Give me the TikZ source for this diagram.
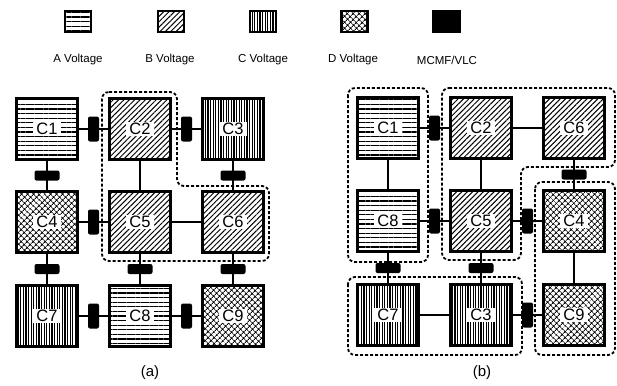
\documentclass[tikz,border=0pt]{standalone}
\usepackage{fontspec}
\setmainfont{Liberation Sans}
\usetikzlibrary{patterns.meta, positioning}

\tikzset{
  cell/.style={draw, line width=2.8pt, minimum size=60.5pt, inner sep=0pt},
  tag/.style={fill=white, inner xsep=3pt, inner ysep=1.5pt, font=\fontsize{16.5}{16.5}\selectfont},
  volA/.style={pattern={Lines[angle=0, distance=4.6pt, line width=1.1pt]}},
  volB/.style={pattern={Lines[angle=45, distance=3.8pt, line width=1pt]}},
  volC/.style={pattern={Lines[angle=90, distance=2.6pt, line width=1.2pt]}},
  volD/.style={pattern={Hatch[angle=45, distance=4pt, line width=1pt]}},
  link/.style={line width=2pt},
  mcmfv/.style={fill=black, rounded corners=2pt, minimum width=11pt, minimum height=25pt, inner sep=0pt},
  mcmfh/.style={fill=black, rounded corners=2pt, minimum width=25pt, minimum height=10pt, inner sep=0pt},
  region/.style={line width=1.8pt, dash pattern=on 3pt off 2pt, rounded corners=7pt},
  legbox/.style={draw, line width=2.4pt, minimum width=26pt, minimum height=21pt, inner sep=0pt},
  legtext/.style={font=\fontsize{11.5}{11.5}\selectfont},
  caption/.style={font=\fontsize{15}{15}\selectfont},
}

\begin{document}
\begin{tikzpicture}[x=1pt, y=-1pt]
  \useasboundingbox (0,0) rectangle (617,385);

  % Legend
  \node[legbox, volA] (legA) at (78,21.5) {};
  \node[legbox, volB] (legB) at (171,21.5) {};
  \node[legbox, volC] (legC) at (263,21.5) {};
  \node[legbox, volD] (legD) at (354.5,21.5) {};
  \node[legbox, fill=black] (legM) at (446.5,21.5) {};
  \node[legtext] (legAt) at (78,60) {A Voltage};
  \node[legtext] (legBt) at (170,60) {B Voltage};
  \node[legtext] (legCt) at (263,60) {C Voltage};
  \node[legtext] (legDt) at (353,60) {D Voltage};
  \node[legtext] (legMt) at (447,60) {MCMF/VLC};

  % (a) initial placement
  \node[cell, volA, label={[tag, name=a1t]center:C1}] (a1) at (47,129) {};
  \node[cell, volB, label={[tag, name=a2t]center:C2}] (a2) at (140,129) {};
  \node[cell, volC, label={[tag, name=a3t]center:C3}] (a3) at (233,129) {};
  \node[cell, volD, label={[tag, name=a4t]center:C4}] (a4) at (47,222) {};
  \node[cell, volB, label={[tag, name=a5t]center:C5}] (a5) at (140,222) {};
  \node[cell, volB, label={[tag, name=a6t]center:C6}] (a6) at (233,222) {};
  \node[cell, volC, label={[tag, name=a7t]center:C7}] (a7) at (47,316) {};
  \node[cell, volA, label={[tag, name=a8t]center:C8}] (a8) at (140,316) {};
  \node[cell, volD, label={[tag, name=a9t]center:C9}] (a9) at (233,316) {};

  \draw[link] (a1) -- node[mcmfv] (ma12) {} (a2);
  \draw[link] (a2) -- node[mcmfv] (ma23) {} (a3);
  \draw[link] (a4) -- node[mcmfv] (ma45) {} (a5);
  \draw[link] (a5) -- (a6);
  \draw[link] (a7) -- node[mcmfv] (ma78) {} (a8);
  \draw[link] (a8) -- node[mcmfv] (ma89) {} (a9);
  \draw[link] (a1) -- node[mcmfh] (ma14) {} (a4);
  \draw[link] (a2) -- (a5);
  \draw[link] (a3) -- node[mcmfh] (ma36) {} (a6);
  \draw[link] (a4) -- node[mcmfh] (ma47) {} (a7);
  \draw[link] (a5) -- node[mcmfh] (ma58) {} (a8);
  \draw[link] (a6) -- node[mcmfh] (ma69) {} (a9);

  \draw[region] (102,92) -- (177,92) -- (177,186) -- (269,186) -- (269,261) -- (102,261) -- cycle;
  \node[caption] (capa) at (150,373) {(a)};

  % (b) after clustering
  \node[cell, volA, label={[tag, name=b1t]center:C1}] (b1) at (388,128) {};
  \node[cell, volB, label={[tag, name=b2t]center:C2}] (b2) at (481,128) {};
  \node[cell, volB, label={[tag, name=b6t]center:C6}] (b6) at (574,128) {};
  \node[cell, volA, label={[tag, name=b8t]center:C8}] (b8) at (388,221) {};
  \node[cell, volB, label={[tag, name=b5t]center:C5}] (b5) at (481,221) {};
  \node[cell, volD, label={[tag, name=b4t]center:C4}] (b4) at (574,221) {};
  \node[cell, volC, label={[tag, name=b7t]center:C7}] (b7) at (388,315) {};
  \node[cell, volC, label={[tag, name=b3t]center:C3}] (b3) at (481,315) {};
  \node[cell, volD, label={[tag, name=b9t]center:C9}] (b9) at (574,315) {};

  \draw[link] (b1) -- node[mcmfv] (mb12) {} (b2);
  \draw[link] (b2) -- (b6);
  \draw[link] (b8) -- node[mcmfv] (mb85) {} (b5);
  \draw[link] (b5) -- node[mcmfv] (mb54) {} (b4);
  \draw[link] (b7) -- (b3);
  \draw[link] (b3) -- node[mcmfv] (mb39) {} (b9);
  \draw[link] (b1) -- (b8);
  \draw[link] (b2) -- (b5);
  \draw[link] (b6) -- node[mcmfh] (mb64) {} (b4);
  \draw[link] (b8) -- node[mcmfh] (mb87) {} (b7);
  \draw[link] (b5) -- node[mcmfh] (mb53) {} (b3);
  \draw[link] (b4) -- (b9);

  \draw[region] (348,88) rectangle (428,262);
  \draw[region] (442,88) -- (615,88) -- (615,167) -- (521,167) -- (521,260) -- (442,260) -- cycle;
  \draw[region] (535,182) rectangle (615,355);
  \draw[region] (348,277) rectangle (522,355);
  \node[caption] (capb) at (482,373) {(b)};
\end{tikzpicture}
\end{document}
